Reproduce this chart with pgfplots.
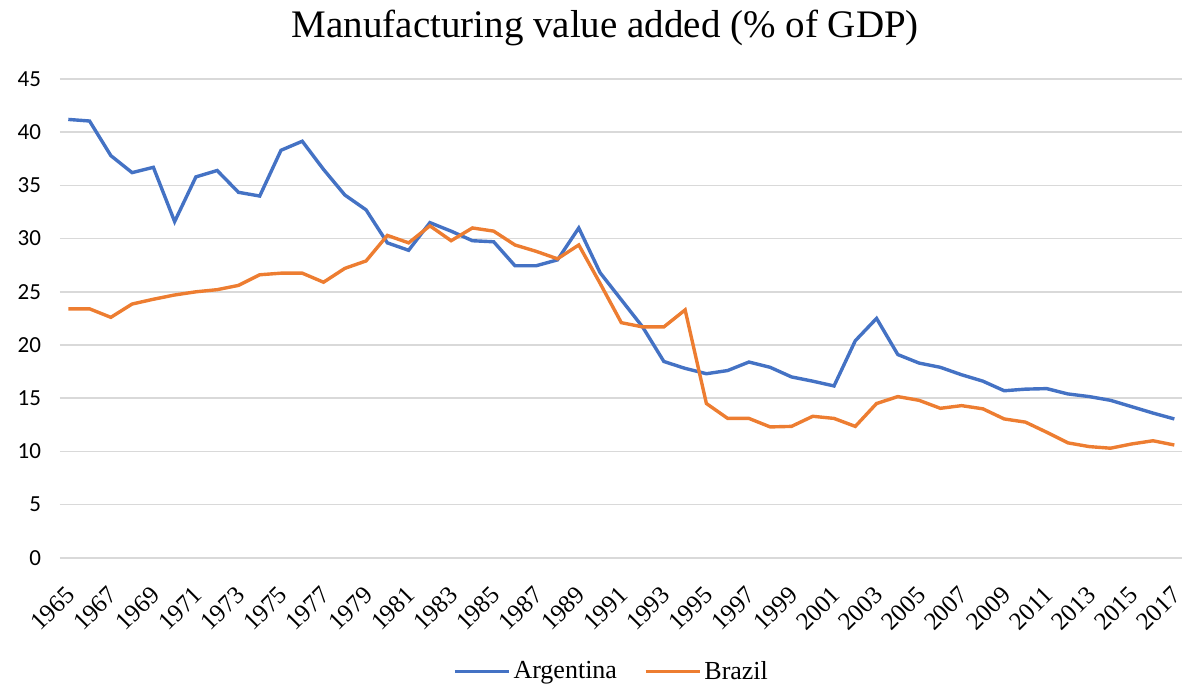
\documentclass[border=0pt]{standalone}
\usepackage{fontspec}
\setmainfont{Liberation Serif}
\newfontfamily\tickfont{Carlito}
\usepackage{pgfplots}
\pgfplotsset{compat=1.18}
\definecolor{argblue}{HTML}{4472C4}
\definecolor{braorange}{HTML}{ED7D31}
\definecolor{gridgray}{HTML}{D9D9D9}

\pgfplotstableread{
year arg bra
1965 41.2 23.4
1966 41.05 23.4
1967 37.8 22.6
1968 36.2 23.85
1969 36.7 24.3
1970 31.6 24.7
1971 35.8 25.0
1972 36.4 25.2
1973 34.35 25.6
1974 34.0 26.6
1975 38.3 26.75
1976 39.15 26.75
1977 36.5 25.9
1978 34.1 27.2
1979 32.7 27.9
1980 29.6 30.3
1981 28.9 29.6
1982 31.5 31.2
1983 30.7 29.8
1984 29.8 31.0
1985 29.7 30.7
1986 27.45 29.4
1987 27.45 28.8
1988 28.0 28.1
1989 31.0 29.4
1990 26.8 25.8
1991 24.25 22.1
1992 21.7 21.7
1993 18.45 21.7
1994 17.8 23.3
1995 17.3 14.5
1996 17.6 13.1
1997 18.4 13.1
1998 17.9 12.3
1999 17.0 12.35
2000 16.6 13.3
2001 16.15 13.1
2002 20.4 12.35
2003 22.5 14.5
2004 19.1 15.15
2005 18.3 14.8
2006 17.9 14.05
2007 17.2 14.3
2008 16.6 14.0
2009 15.7 13.05
2010 15.85 12.75
2011 15.9 11.8
2012 15.4 10.8
2013 15.15 10.45
2014 14.8 10.3
2015 14.2 10.7
2016 13.6 11.0
2017 13.05 10.6
}\datatable

\begin{document}
\begin{tikzpicture}
\path[use as bounding box] (-30pt,-63.1pt) rectangle (562pt,278.9pt);
\begin{axis}[
  at={(0,0)}, anchor=south west,
  scale only axis,
  width=561pt, height=239.4pt,
  xmin=1964.61, xmax=2017.36,
  ymin=0, ymax=45,
  axis line style={draw=none},
  major tick length=0pt,
  ytick={0,5,...,45},
  xtick={1965,1967,...,2017},
  ymajorgrids,
  grid style={gridgray, line width=0.8pt},
  /pgf/number format/1000 sep={},
  /pgf/number format/assume math mode=true,
  yticklabel style={font=\tickfont\fontsize{11.5}{12}\selectfont, xshift=-6pt},
  xticklabel style={font=\fontsize{12.5}{13}\selectfont, xshift=3.5pt, yshift=-14pt, rotate=45, anchor=east},
  title={Manufacturing value added (\% of GDP)},
  title style={font=\fontsize{19.5}{22}\selectfont, at={(0.486,1)}, anchor=base, yshift=14.5pt, inner sep=0pt},
  legend style={draw=none, at={(0.492,-0.238)}, anchor=center,
    font=\fontsize{13}{14}\selectfont,
    nodes={inner sep=1.5pt},
    /tikz/every even column/.append style={column sep=12pt}},
  legend columns=2,
  legend image code/.code={\draw[#1, line width=1.7pt] (0pt,0pt) -- (27pt,0pt);},
]
\addplot[argblue, line width=1.7pt] table[x=year, y=arg] {\datatable};
\addlegendentry{Argentina}
\addplot[braorange, line width=1.7pt] table[x=year, y=bra] {\datatable};
\addlegendentry{Brazil}
\end{axis}
\end{tikzpicture}
\end{document}
